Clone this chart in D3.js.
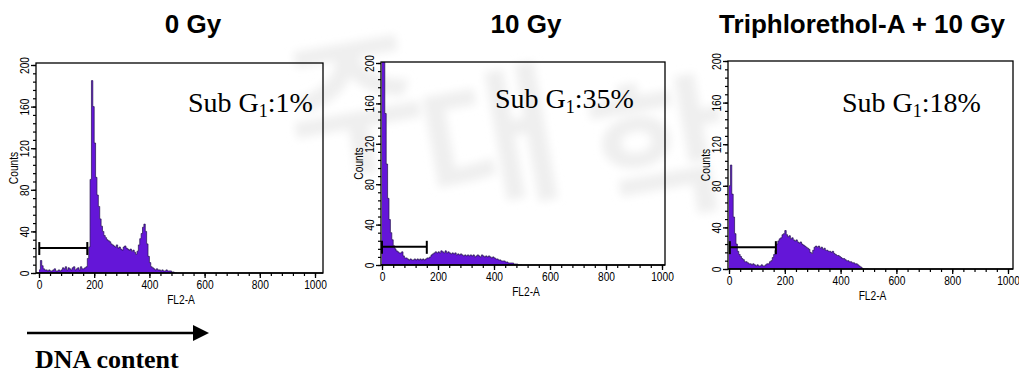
<!DOCTYPE html>
<html>
<head>
<meta charset="utf-8">
<script src="https://cdn.jsdelivr.net/npm/d3@7"></script>
<style>
    body { margin: 0; background: #fff; }
    svg { display: block; }
</style>
</head>
<body>
<svg id="chart" width="1019" height="376"></svg>
<script>
// panel titles and Sub G1 fractions
const titles = ['0 Gy', '10 Gy', 'Triphlorethol-A + 10 Gy']
const subG1 = ['1%', '35%', '18%']

// histogram bins: 5 FL2-A channels per bin, starting at channel 0
const binWidth = 5
const xTicks = [0, 200, 400, 600, 800, 1000]
const yTicks = [0, 40, 80, 120, 160, 200]

// counts per bin
const counts0Gy = [
    3, 12, 7, 4, 3, 3, 2, 3, 2, 2, 3, 4, 2, 2, 3, 2, 3, 5, 4, 6,
    3, 5, 4, 3, 5, 6, 3, 4, 5, 3, 6, 4, 4, 5, 6, 14, 25, 90, 185, 160,
    125, 92, 75, 64, 52, 45, 40, 36, 34, 32, 31, 30, 28, 27, 26, 25, 27, 24, 25, 23,
    22, 25, 26, 24, 23, 22, 23, 21, 22, 20, 18, 21, 27, 33, 38, 44, 47, 40, 28, 16,
    10, 6, 5, 4, 3, 4, 3, 3, 2, 3, 2, 2, 3, 2, 2, 2, 1, 1, 0, 0,
]
const counts10Gy = [
    210, 205, 150, 100, 66, 45, 32, 25, 19, 16, 14, 13, 12, 12, 13, 9, 7, 7, 6, 5,
    6, 5, 5, 6, 5, 6, 5, 6, 5, 6, 5, 6, 7, 7, 8, 10, 11, 12, 13, 12,
    13, 12, 14, 13, 12, 14, 12, 13, 12, 11, 12, 11, 12, 10, 11, 10, 11, 10, 9, 10,
    9, 10, 9, 10, 9, 10, 8, 9, 10, 9, 8, 10, 9, 8, 9, 8, 9, 8, 7, 8,
    7, 6, 6, 5, 5, 4, 4, 4, 3, 3, 2, 2, 2, 2, 1, 1, 1, 0, 0, 0,
]
const countsTriA10Gy = [
    80, 100, 72, 50, 34, 24, 17, 14, 12, 10, 9, 7, 7, 6, 5, 5, 4, 5, 4, 3,
    4, 3, 3, 4, 3, 3, 4, 5, 5, 7, 8, 11, 14, 18, 24, 27, 29, 30, 33, 34,
    37, 33, 31, 32, 29, 30, 28, 27, 28, 26, 25, 26, 24, 23, 22, 21, 20, 19, 16, 15,
    18, 21, 22, 21, 22, 20, 21, 19, 20, 18, 18, 17, 17, 16, 17, 15, 14, 13, 13, 12,
    11, 10, 10, 9, 8, 8, 7, 7, 6, 6, 5, 5, 4, 3, 2, 1, 0, 0, 0, 0,
]
const seriesList = [counts0Gy, counts10Gy, countsTriA10Gy]

// M1 marker: [start channel, end channel, count level]
const markers = [[1, 175, 24], [0, 160, 18], [3, 168, 21]]

// where each panel sits on the page
const layout = [
    { x0: 39, x1: 315, y0: 273, y200: 65, left: 36, right: 323, top: 63, titleX: 193, subX: 188, subY: 112 },
    { x0: 382, x1: 662, y0: 265, y200: 63, left: 381, right: 665, top: 62, titleX: 526, subX: 495, subY: 108 },
    { x0: 729, x1: 1008, y0: 269, y200: 61, left: 728, right: 1013, top: 61, titleX: 862, subX: 842, subY: 112 },
]

const fillColor = '#6416d8'
const edgeColor = '#24124f'
const tickFont = "'Liberation Sans Narrow', 'Arial Narrow', 'Liberation Sans', sans-serif"
const narrow = 'scale(0.85,1)'

const svg = d3.select('#chart')

// faint watermark behind everything
const defs = svg.append('defs')
defs.append('filter').attr('id', 'blur')
    .append('feGaussianBlur').attr('stdDeviation', 4)
const wm = svg.append('g')
    .attr('filter', 'url(#blur)')
    .attr('fill', '#efefef')
    .attr('font-family', "'Noto Sans CJK KR', sans-serif")
    .attr('font-weight', 'bold')
    .attr('font-size', 150)
    .attr('text-anchor', 'middle')
const wmChars = [['주', 365, 160], ['대', 500, 195], ['학', 670, 205]]
wmChars.forEach(([ch, x, y]) => {
    wm.append('text')
        .attr('transform', `translate(${x},${y}) rotate(-10)`)
        .text(ch)
})

layout.forEach((L, i) => {
    const counts = seriesList[i]
    const x = d3.scaleLinear().domain([0, 1000]).range([L.x0, L.x1])
    const y = d3.scaleLinear().domain([0, 200]).range([L.y0, L.y200])
    const g = svg.append('g').attr('class', `panel-${i}`)

    // 标题
    g.append('text')
        .attr('x', L.titleX)
        .attr('y', 33)
        .attr('text-anchor', 'middle')
        .attr('font-family', "'Liberation Sans', Arial, sans-serif")
        .attr('font-weight', 'bold')
        .attr('font-size', 26)
        .text(titles[i])

    // clip so the off-scale peak stops at the frame
    const clipId = `clip-${i}`
    defs.append('clipPath').attr('id', clipId)
        .append('rect')
        .attr('x', L.left)
        .attr('y', L.top)
        .attr('width', L.right - L.left)
        .attr('height', L.y0 - L.top)

    const pts = counts.map((c, k) => ({ ch: k * binWidth, c }))
    pts.push({ ch: counts.length * binWidth, c: 0 })

    const area = d3.area()
        .x(d => x(d.ch))
        .y0(y(0))
        .y1(d => y(d.c))
        .curve(d3.curveStepAfter)
    const line = d3.line()
        .x(d => x(d.ch))
        .y(d => y(d.c))
        .curve(d3.curveStepAfter)

    const hist = g.append('g').attr('clip-path', `url(#${clipId})`)
    hist.append('path')
        .datum(pts)
        .attr('d', area)
        .attr('fill', fillColor)
    hist.append('path')
        .datum(pts)
        .attr('d', line)
        .attr('fill', 'none')
        .attr('stroke', edgeColor)
        .attr('stroke-width', 0.7)

    // frame
    g.append('rect')
        .attr('x', L.left)
        .attr('y', L.top)
        .attr('width', L.right - L.left)
        .attr('height', L.y0 - L.top)
        .attr('fill', 'none')
        .attr('stroke', '#000')
        .attr('stroke-width', 1.3)

    // x axis, major + minor ticks
    const xAxis = g.append('g')
        .attr('transform', `translate(0,${L.y0})`)
        .call(d3.axisBottom(x).tickValues(xTicks).tickSize(5).tickSizeOuter(0).tickFormat(d3.format('d')))
    xAxis.select('.domain').remove()
    xAxis.selectAll('.tick line').attr('stroke-width', 1.3)
    xAxis.selectAll('.tick text')
        .attr('font-family', tickFont)
        .attr('font-size', 12)
        .attr('y', 7)
        .attr('transform', narrow)
    g.append('g')
        .attr('transform', `translate(0,${L.y0})`)
        .call(d3.axisBottom(x).tickValues(d3.range(0, 1001, 40)).tickSize(3).tickFormat(''))
        .call(a => a.select('.domain').remove())
        .selectAll('.tick line').attr('stroke-width', 1.2)
    g.append('line')
        .attr('x1', L.left).attr('x2', L.right)
        .attr('y1', L.y0).attr('y2', L.y0)
        .attr('stroke', '#000').attr('stroke-width', 1.5)

    // y axis on the frame's left edge
    const yAxis = g.append('g')
        .attr('transform', `translate(${L.left},0)`)
        .call(d3.axisLeft(y).tickValues(yTicks).tickSize(5).tickSizeOuter(0))
    yAxis.select('.domain').remove()
    yAxis.selectAll('.tick line').attr('stroke-width', 1.3)
    yAxis.selectAll('.tick text')
        .attr('font-family', tickFont)
        .attr('font-size', 12)
        .attr('text-anchor', 'middle')
        .attr('transform', `rotate(-90) ${narrow}`)
        .attr('x', 0)
        .attr('y', -7)
        .attr('dy', 0)
    g.append('g')
        .attr('transform', `translate(${L.left},0)`)
        .call(d3.axisLeft(y).tickValues(d3.range(0, 201, 8)).tickSize(3).tickFormat(''))
        .call(a => a.select('.domain').remove())
        .selectAll('.tick line').attr('stroke-width', 1.2)

    // axis titles
    g.append('text')
        .attr('transform', `translate(${L.left - 18},${(L.top + L.y0) / 2}) rotate(-90) ${narrow}`)
        .attr('text-anchor', 'middle')
        .attr('font-family', tickFont)
        .attr('font-size', 12)
        .text('Counts')
    g.append('text')
        .attr('transform', `translate(${x(500) + 4},${L.y0 + 31}) ${narrow}`)
        .attr('text-anchor', 'middle')
        .attr('font-family', tickFont)
        .attr('font-size', 12)
        .text('FL2-A')

    // M1 marker bar
    const [m0, m1, mLevel] = markers[i]
    const my = y(mLevel)
    const marker = g.append('g').attr('stroke', '#000').attr('stroke-width', 2)
    marker.append('line').attr('x1', x(m0)).attr('x2', x(m1)).attr('y1', my).attr('y2', my)
    marker.append('line').attr('x1', x(m0)).attr('x2', x(m0)).attr('y1', my - 6).attr('y2', my + 7)
    marker.append('line').attr('x1', x(m1)).attr('x2', x(m1)).attr('y1', my - 6).attr('y2', my + 7)

    // Sub G1 label
    const sub = g.append('text')
        .attr('x', L.subX)
        .attr('y', L.subY)
        .attr('font-family', "'Liberation Serif', 'Times New Roman', serif")
        .attr('font-size', 28)
    sub.append('tspan').text('Sub G')
    sub.append('tspan').attr('font-size', 18).attr('dy', 5).text('1')
    sub.append('tspan').attr('dy', -5).text(':' + subG1[i])
})

// DNA content arrow
svg.append('line')
    .attr('x1', 27).attr('x2', 196)
    .attr('y1', 333).attr('y2', 333)
    .attr('stroke', '#000').attr('stroke-width', 2.5)
svg.append('path')
    .attr('d', 'M193,325 L209,333 L193,341 Z')
    .attr('fill', '#000')
svg.append('text')
    .attr('x', 35)
    .attr('y', 368)
    .attr('font-family', "'Liberation Serif', 'Times New Roman', serif")
    .attr('font-weight', 'bold')
    .attr('font-size', 26)
    .text('DNA content')
</script>
</body>
</html>
